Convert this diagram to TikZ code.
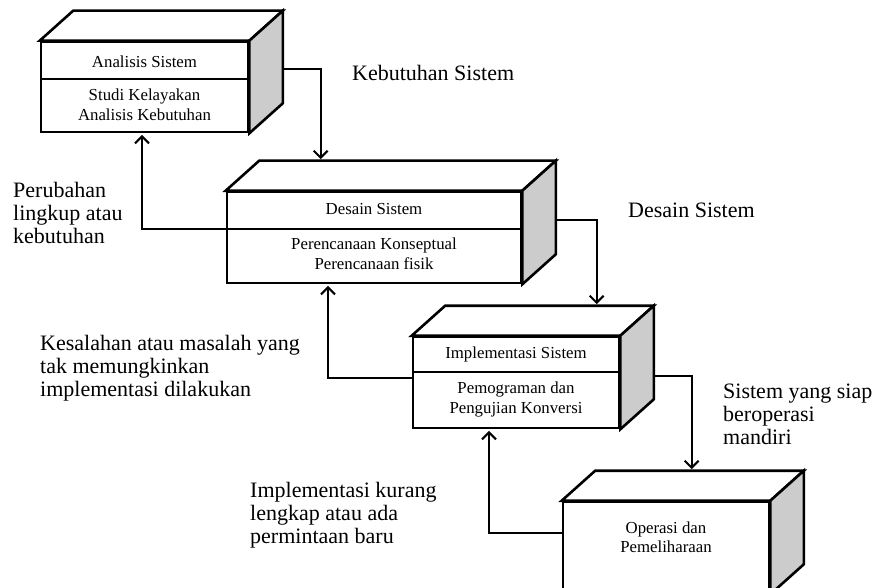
\documentclass[tikz,border=0pt]{standalone}
\usepackage{fontspec}
\setmainfont{Liberation Serif}
\usetikzlibrary{arrows.meta,calc}
\tikzset{
  front/.style={draw, line width=2.6pt, fill=white, inner sep=0pt, minimum width=#1},
  face/.style={draw, line width=2.6pt, line join=miter, fill=white},
  sideface/.style={draw, line width=2.6pt, line join=miter, fill=gray!40},
  divider/.style={line width=2.4pt},
  boxtext/.style={align=center, inner sep=0pt, font=\fontsize{16.8}{19.5}\selectfont},
  lbl/.style={align=left, anchor=base west, inner sep=0pt, font=\fontsize{22}{23}\selectfont},
  arr/.style={line width=2.1pt, -{Straight Barb[length=7pt,width=14pt]}}
}
\newcommand{\cubefaces}[1]{%
  \draw[face] (#1.north west) -- ++(33.5,-30) -- ($(#1.north east)+(33.5,-30)$) -- (#1.north east) -- cycle;
  \draw[sideface] (#1.north east) -- ++(33.5,-30) -- ($(#1.south east)+(33.5,-30)$) -- (#1.south east) -- cycle;
}
\begin{document}
\begin{tikzpicture}[x=1pt,y=-1pt]
\useasboundingbox (0,0) rectangle (874,588);
\begin{scope}
\clip (0,0) rectangle (874,588);
% Box 1
\node[front=207pt, minimum height=90pt] (b1) at (144.5,87) {};
\cubefaces{b1}
\draw[divider] ($(b1.west)+(0,-8)$) -- ($(b1.east)+(0,-8)$);
\node[boxtext] (t1a) at (144.5,62) {Analisis Sistem};
\node[boxtext] (t1b) at (144.5,105) {Studi Kelayakan\\Analisis Kebutuhan};
% Box 2
\node[front=294pt, minimum height=91pt] (b2) at (374,237.5) {};
\cubefaces{b2}
\draw[divider] ($(b2.west)+(0,-8.5)$) -- ($(b2.east)+(0,-8.5)$);
\node[boxtext] (t2a) at (374,209) {Desain Sistem};
\node[boxtext] (t2b) at (374,254) {Perencanaan Konseptual\\Perencanaan fisik};
% Box 3
\node[front=206pt, minimum height=91pt] (b3) at (516,382.5) {};
\cubefaces{b3}
\draw[divider] ($(b3.west)+(0,-10.5)$) -- ($(b3.east)+(0,-10.5)$);
\node[boxtext] (t3a) at (516,354) {Implementasi Sistem};
\node[boxtext] (t3b) at (516,399.5) {Pemograman dan\\Pengujian Konversi};
% Box 4
\node[front=206pt, minimum height=91pt] (b4) at (666,547.5) {};
\cubefaces{b4}
\node[boxtext] (t4) at (666,537) {Operasi dan\\Pemeliharaan};
\end{scope}
% forward arrows
\draw[arr] ($(b1.east)+(33.5,-18)$) -| ($(b2.north west)+(95,-31.5)$);
\draw[arr] ($(b2.east)+(33.5,-17.5)$) -| ($(b3.north west)+(185,-31.5)$);
\draw[arr] ($(b3.east)+(33.5,-6.5)$) -| ($(b4.north west)+(130,-31.5)$);
% feedback arrows
\draw[arr] ($(b2.west)+(0,-8.5)$) -| ($(b1.south)+(-2.5,1.5)$);
\draw[arr] ($(b3.west)+(0,-4.5)$) -| ($(b2.south)+(-46,1.5)$);
\draw[arr] ($(b4.west)+(0,-14.5)$) -| ($(b3.south)+(-27,1.5)$);
% labels (base = baseline of last line)
\node[lbl] (l1) at (352,81) {Kebutuhan Sistem};
\node[lbl] (l2) at (13,243) {Perubahan\\lingkup atau\\kebutuhan};
\node[lbl] (l3) at (628,217) {Desain Sistem};
\node[lbl] (l4) at (40,396) {Kesalahan atau masalah yang\\tak memungkinkan\\implementasi dilakukan};
\node[lbl] (l5) at (723,444) {Sistem yang siap\\beroperasi\\mandiri};
\node[lbl] (l6) at (250,543) {Implementasi kurang\\lengkap atau ada\\permintaan baru};
\end{tikzpicture}
\end{document}
